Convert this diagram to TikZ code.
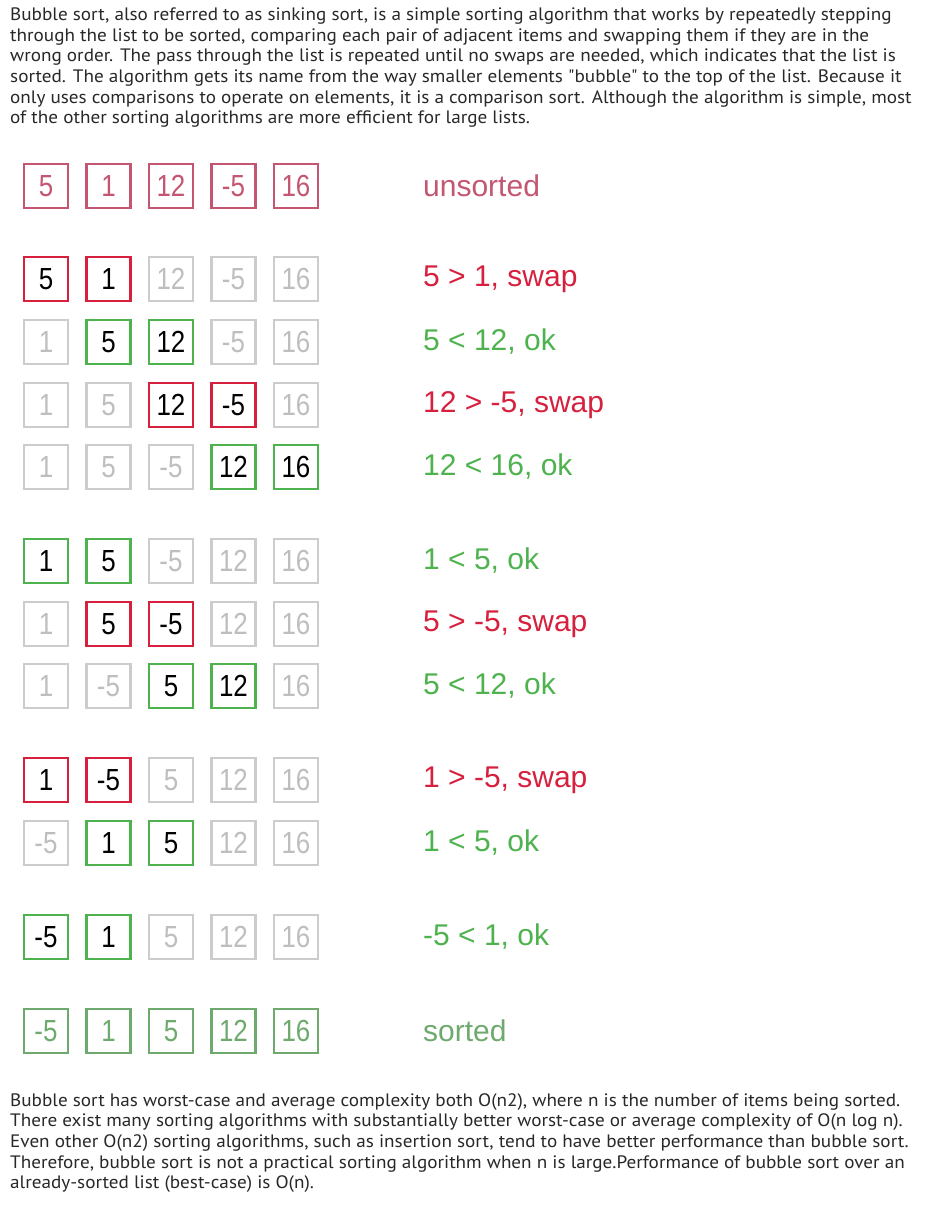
\documentclass[tikz,border=0pt]{standalone}
\usepackage{fontspec}
\setmainfont{Liberation Sans}
\newfontfamily\cellfont[FakeStretch=0.85]{Liberation Sans}
\newfontfamily\bodyfont[FakeStretch=1.065]{PT Sans}
\usetikzlibrary{positioning}
\definecolor{SwapRed}{RGB}{214, 32, 62}
\definecolor{OkGreen}{RGB}{78, 178, 78}
\definecolor{StartRose}{RGB}{196, 86, 114}
\definecolor{DoneGreen}{RGB}{110, 170, 110}
\definecolor{IdleGray}{RGB}{204, 204, 204}
\definecolor{IdleText}{RGB}{190, 190, 190}
\definecolor{BodyInk}{RGB}{40, 40, 40}

\begin{document}
\begin{tikzpicture}[x=1pt, y=-1pt,
        cell/.style={draw, line width=2.6pt, minimum width=44pt, minimum height=44pt, inner sep=0pt, font=\cellfont\fontsize{30.5}{31}\selectfont},
        idle/.style={cell, draw=IdleGray, text=IdleText},
        swapcell/.style={cell, draw=SwapRed, text=black},
        okcell/.style={cell, draw=OkGreen, text=black},
        startcell/.style={cell, draw=StartRose, text=StartRose},
        donecell/.style={cell, draw=DoneGreen, text=DoneGreen},
        note/.style={anchor=west, inner sep=0pt, font=\fontsize{30}{32}\selectfont},
        para/.style={anchor=north west, align=left, inner sep=0pt, text=BodyInk, font=\bodyfont\fontsize{18}{20.7}\selectfont}]

        \useasboundingbox (0,0) rectangle (926,1205);
        \fill[white] (0,0) rectangle (926,1205);

        % --- INTRO TEXT ---
        \node[para] (intro) at (10, 7.5) {Bubble sort, also referred to as sinking sort, is a simple sorting algorithm that works by repeatedly stepping\\
through the list to be sorted, comparing each pair of adjacent items and swapping them if they are in the\\
wrong order. The pass through the list is repeated until no swaps are needed, which indicates that the list is\\
sorted. The algorithm gets its name from the way smaller elements "bubble" to the top of the list. Because it\\
only uses comparisons to operate on elements, it is a comparison sort. Although the algorithm is simple, most\\
of the other sorting algorithms are more efficient for large lists.};

        % --- START ---
        \foreach \s/\v [count=\c] in {startcell/5, startcell/1, startcell/12, startcell/-5, startcell/16}
            \node[\s] (a\c) at ({46+62.5*(\c-1)}, 186) {\v};
        \node[note, text=StartRose] (na) at (423, 186) {unsorted};

        % --- PASS 1 ---
        \foreach \s/\v [count=\c] in {swapcell/5, swapcell/1, idle/12, idle/-5, idle/16}
            \node[\s] (b\c) at ({46+62.5*(\c-1)}, 279) {\v};
        \node[note, text=SwapRed] (nb) at (423, 279) {5 > 1, swap};

        \foreach \s/\v [count=\c] in {idle/1, okcell/5, okcell/12, idle/-5, idle/16}
            \node[\s] (c\c) at ({46+62.5*(\c-1)}, 342) {\v};
        \node[note, text=OkGreen] (nc) at (423, 342) {5 < 12, ok};

        \foreach \s/\v [count=\c] in {idle/1, idle/5, swapcell/12, swapcell/-5, idle/16}
            \node[\s] (d\c) at ({46+62.5*(\c-1)}, 405) {\v};
        \node[note, text=SwapRed] (nd) at (423, 405) {12 > -5, swap};

        \foreach \s/\v [count=\c] in {idle/1, idle/5, idle/-5, okcell/12, okcell/16}
            \node[\s] (e\c) at ({46+62.5*(\c-1)}, 467) {\v};
        \node[note, text=OkGreen] (ne) at (423, 467) {12 < 16, ok};

        % --- PASS 2 ---
        \foreach \s/\v [count=\c] in {okcell/1, okcell/5, idle/-5, idle/12, idle/16}
            \node[\s] (f\c) at ({46+62.5*(\c-1)}, 561) {\v};
        \node[note, text=OkGreen] (nf) at (423, 561) {1 < 5, ok};

        \foreach \s/\v [count=\c] in {idle/1, swapcell/5, swapcell/-5, idle/12, idle/16}
            \node[\s] (g\c) at ({46+62.5*(\c-1)}, 624) {\v};
        \node[note, text=SwapRed] (ng) at (423, 624) {5 > -5, swap};

        \foreach \s/\v [count=\c] in {idle/1, idle/-5, okcell/5, okcell/12, idle/16}
            \node[\s] (h\c) at ({46+62.5*(\c-1)}, 686) {\v};
        \node[note, text=OkGreen] (nh) at (423, 686) {5 < 12, ok};

        % --- PASS 3 ---
        \foreach \s/\v [count=\c] in {swapcell/1, swapcell/-5, idle/5, idle/12, idle/16}
            \node[\s] (i\c) at ({46+62.5*(\c-1)}, 780) {\v};
        \node[note, text=SwapRed] (ni) at (423, 780) {1 > -5, swap};

        \foreach \s/\v [count=\c] in {idle/-5, okcell/1, okcell/5, idle/12, idle/16}
            \node[\s] (j\c) at ({46+62.5*(\c-1)}, 843) {\v};
        \node[note, text=OkGreen] (nj) at (423, 843) {1 < 5, ok};

        % --- PASS 4 ---
        \foreach \s/\v [count=\c] in {okcell/-5, okcell/1, idle/5, idle/12, idle/16}
            \node[\s] (k\c) at ({46+62.5*(\c-1)}, 937) {\v};
        \node[note, text=OkGreen] (nk) at (423, 937) {-5 < 1, ok};

        % --- DONE ---
        \foreach \s/\v [count=\c] in {donecell/-5, donecell/1, donecell/5, donecell/12, donecell/16}
            \node[\s] (l\c) at ({46+62.5*(\c-1)}, 1031) {\v};
        \node[note, text=DoneGreen] (nl) at (423, 1031) {sorted};

        % --- CLOSING TEXT ---
        \node[para] (outro) at (10, 1093) {Bubble sort has worst-case and average complexity both O(n2), where n is the number of items being sorted.\\
There exist many sorting algorithms with substantially better worst-case or average complexity of O(n log n).\\
Even other O(n2) sorting algorithms, such as insertion sort, tend to have better performance than bubble sort.\\
Therefore, bubble sort is not a practical sorting algorithm when n is large.Performance of bubble sort over an\\
already-sorted list (best-case) is O(n).};
    \end{tikzpicture}
\end{document}
